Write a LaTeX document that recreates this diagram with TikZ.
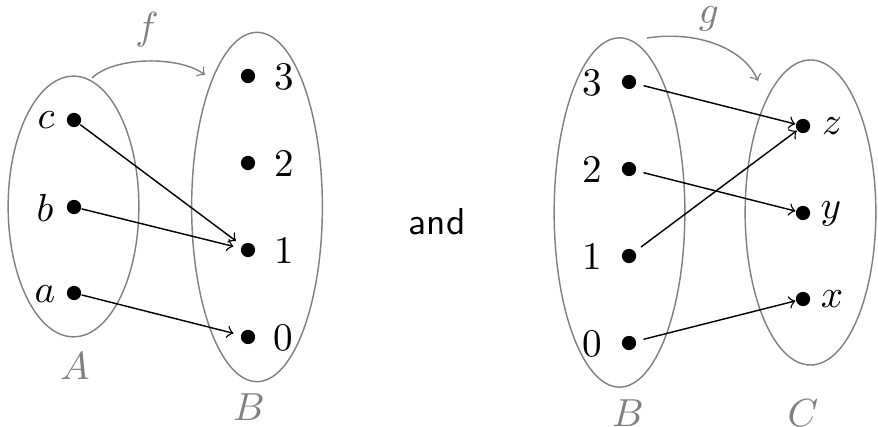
\documentclass[tikz,border=0pt]{standalone}
\begin{document}
\begin{tikzpicture}[x=0.28pt,y=-0.28pt,
  dot/.style={circle,fill=black,inner sep=0pt,minimum size=4pt},
  setell/.style={draw=gray,line width=0.4pt},
  setname/.style={text=gray,inner sep=0pt,font=\fontsize{10.5}{12}\selectfont},
  elname/.style={inner sep=0pt,font=\fontsize{10.5}{12}\selectfont},
  mapleft/.style={->,shorten >=2pt},
  mapright/.style={->,shorten <=2pt},
  funarrow/.style={->,draw=gray}]
\useasboundingbox (0,0) rectangle (878,427);
% ---------- left diagram ----------
\draw[setell] (73.5,206.5) ellipse [x radius=18.3pt, y radius=36.5pt];
\draw[setell] (257,207) ellipse [x radius=18.3pt, y radius=48.9pt];
\node[dot] (c) at (74,120) {};
\node[dot] (b) at (74,207) {};
\node[dot] (a) at (74,293) {};
\node[dot] (l3) at (248,76) {};
\node[dot] (l2) at (248,163) {};
\node[dot] (l1) at (248,250) {};
\node[dot] (l0) at (248,337) {};
\node[elname] (tc) at (46,120) {$c$};
\node[elname] (tb) at (45,208) {$b$};
\node[elname] (ta) at (45,294) {$a$};
\node[elname] (t3) at (284,77) {$3$};
\node[elname] (t2) at (284,164) {$2$};
\node[elname] (t1) at (284,251) {$1$};
\node[elname] (t0) at (283,338) {$0$};
\node[setname] (nA) at (75,366) {$A$};
\node[setname] (nB) at (249,407) {$B$};
\node[setname] (nf) at (147,30) {$f$};
\draw[mapleft] (c) -- (l1);
\draw[mapleft] (b) -- (l1);
\draw[mapleft] (a) -- (l0);
\coordinate (fs) at (92,78);
\coordinate (fe) at (205,75);
\draw[funarrow] (fs) .. controls (115,56) and (180,56) .. (fe);
% ---------- and ----------
\node[inner sep=0pt,font=\sffamily\fontsize{10.5}{12}\selectfont] (and) at (437,222) {and};
% ---------- right diagram ----------
\draw[setell] (619.5,212.5) ellipse [x radius=18.3pt, y radius=48.9pt];
\draw[setell] (810.5,212.5) ellipse [x radius=18.3pt, y radius=42.7pt];
\node[dot] (r3) at (629,82) {};
\node[dot] (r2) at (629,169) {};
\node[dot] (r1) at (629,256) {};
\node[dot] (r0) at (629,343) {};
\node[dot] (z) at (803,126) {};
\node[dot] (y) at (803,213) {};
\node[dot] (x) at (803,299) {};
\node[elname] (s3) at (592,83) {$3$};
\node[elname] (s2) at (592,170) {$2$};
\node[elname] (s1) at (592,257) {$1$};
\node[elname] (s0) at (592,344) {$0$};
\node[elname] (tz) at (832,126) {$z$};
\node[elname] (ty) at (831,214) {$y$};
\node[elname] (tx) at (832,299) {$x$};
\node[setname] (nB2) at (628,413) {$B$};
\node[setname] (nC) at (803,413) {$C$};
\node[setname] (ng) at (709,19) {$g$};
\draw[mapright] (r3) -- (z);
\draw[mapright] (r2) -- (y);
\draw[mapright] (r1) -- (z);
\draw[mapright] (r0) -- (x);
\coordinate (gs) at (647,38);
\coordinate (ge) at (758,81);
\draw[funarrow] (gs) .. controls (700,30) and (745,50) .. (ge);
\end{tikzpicture}
\end{document}
